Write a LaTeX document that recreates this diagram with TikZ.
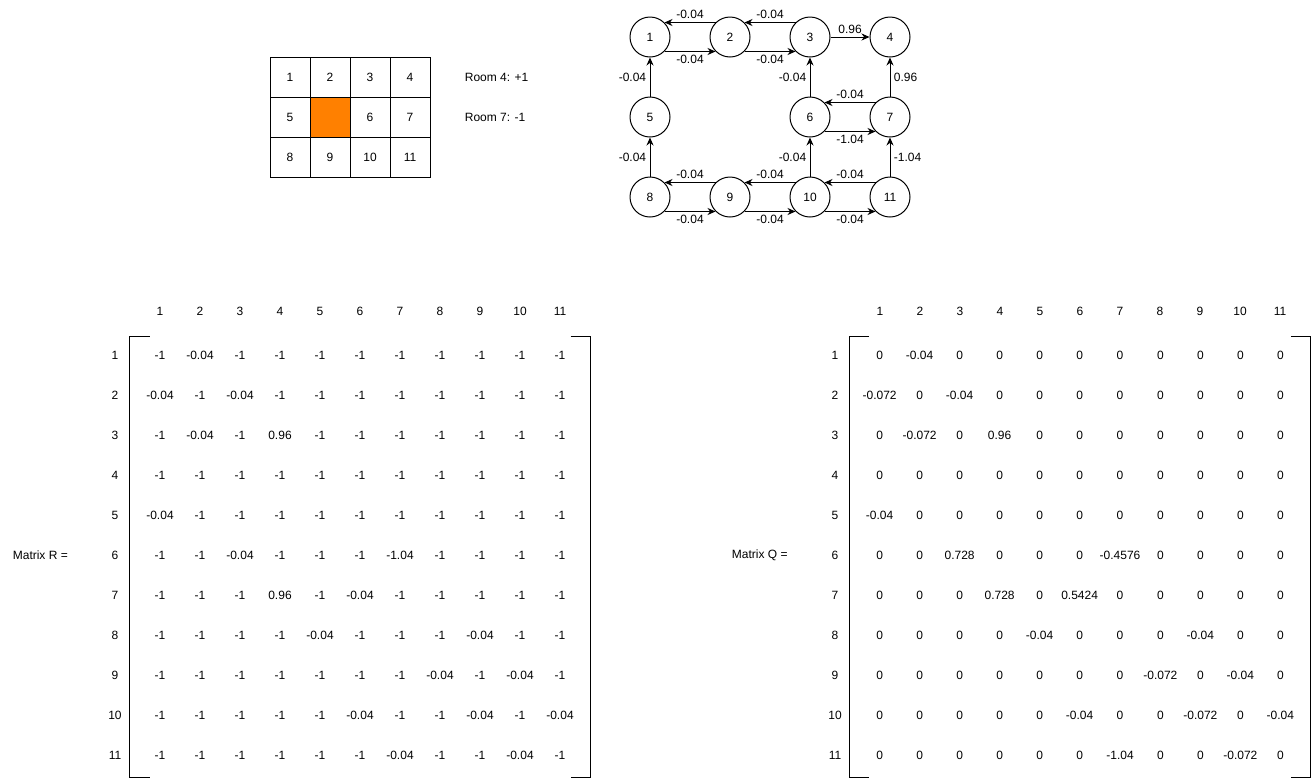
\documentclass[tikz,border=0pt]{standalone}
\usepackage{fontspec}
\setmainfont{Liberation Sans}
\usetikzlibrary{arrows.meta,matrix,calc}
\definecolor{wallorange}{HTML}{FF8000}

\begin{document}
\begin{tikzpicture}[x=1pt,y=-1pt,line width=1pt,
  font=\fontsize{12}{14}\selectfont,
  room/.style={draw,minimum size=40pt,inner sep=0pt},
  state node/.style={circle,draw,minimum size=40pt,inner sep=0pt},
  qtable/.style={matrix of nodes,inner sep=0pt,
    nodes={minimum width=40pt,minimum height=40pt,inner sep=0pt}},
  >={Stealth[length=8pt,width=7pt]}]

  \useasboundingbox (0,0) rectangle (1312,780);

  % rooms
  \node[room] (r1) at (290,77){1};
  \node[room] (r2) at (330,77){2};
  \node[room] (r3) at (370,77){3};
  \node[room] (r4) at (410,77){4};
  \node[room] (r5) at (290,117){5};
  \node[room,fill=wallorange] (wall) at (330,117){};
  \node[room] (r6) at (370,117){6};
  \node[room] (r7) at (410,117){7};
  \node[room] (r8) at (290,157){8};
  \node[room] (r9) at (330,157){9};
  \node[room] (r10) at (370,157){10};
  \node[room] (r11) at (410,157){11};

  \node[anchor=west] (goal) at (461,77){Room 4: +1};
  \node[anchor=west] (trap) at (461,117){Room 7: -1};

  % states
  \node[state node] (1) at (650,37){1};
  \node[state node] (2) at (730,37){2};
  \node[state node] (3) at (810,37){3};
  \node[state node] (4) at (890,37){4};
  \node[state node] (5) at (650,117){5};
  \node[state node] (6) at (810,117){6};
  \node[state node] (7) at (890,117){7};
  \node[state node] (8) at (650,197){8};
  \node[state node] (9) at (730,197){9};
  \node[state node] (10) at (810,197){10};
  \node[state node] (11) at (890,197){11};

  \path[->,every node/.style={font=\fontsize{12}{14}\selectfont}]
    (2.135) edge node[above]{-0.04} (1.45)
    (1.-45) edge node[below]{-0.04} (2.-135)
    (3.135) edge node[above]{-0.04} (2.45)
    (2.-45) edge node[below]{-0.04} (3.-135)
    (3) edge node[above]{0.96} (4)
    (5) edge node[left]{-0.04} (1)
    (6) edge node[left]{-0.04} (3)
    (7) edge node[right]{0.96} (4)
    (7.135) edge node[above]{-0.04} (6.45)
    (6.-45) edge node[below]{-1.04} (7.-135)
    (8) edge node[left]{-0.04} (5)
    (10) edge node[left]{-0.04} (6)
    (11) edge node[right]{-1.04} (7)
    (9.135) edge node[above]{-0.04} (8.45)
    (8.-45) edge node[below]{-0.04} (9.-135)
    (10.135) edge node[above]{-0.04} (9.45)
    (9.-45) edge node[below]{-0.04} (10.-135)
    (11.135) edge node[above]{-0.04} (10.45)
    (10.-45) edge node[below]{-0.04} (11.-135);

  % matrix R
  \node[anchor=west] (rname) at (9,555){Matrix R =};
  \foreach \c in {1,...,11}{
    \node (rh\c) at (120+40*\c,311){\c};
    \node (rl\c) at (115,315+40*\c){\c};
  }
  \matrix (R) [qtable] at (360,555) {
    -1 & -0.04 & -1 & -1 & -1 & -1 & -1 & -1 & -1 & -1 & -1 \\
    -0.04 & -1 & -0.04 & -1 & -1 & -1 & -1 & -1 & -1 & -1 & -1 \\
    -1 & -0.04 & -1 & 0.96 & -1 & -1 & -1 & -1 & -1 & -1 & -1 \\
    -1 & -1 & -1 & -1 & -1 & -1 & -1 & -1 & -1 & -1 & -1 \\
    -0.04 & -1 & -1 & -1 & -1 & -1 & -1 & -1 & -1 & -1 & -1 \\
    -1 & -1 & -0.04 & -1 & -1 & -1 & -1.04 & -1 & -1 & -1 & -1 \\
    -1 & -1 & -1 & 0.96 & -1 & -0.04 & -1 & -1 & -1 & -1 & -1 \\
    -1 & -1 & -1 & -1 & -0.04 & -1 & -1 & -1 & -0.04 & -1 & -1 \\
    -1 & -1 & -1 & -1 & -1 & -1 & -1 & -0.04 & -1 & -0.04 & -1 \\
    -1 & -1 & -1 & -1 & -1 & -0.04 & -1 & -1 & -0.04 & -1 & -0.04 \\
    -1 & -1 & -1 & -1 & -1 & -1 & -0.04 & -1 & -1 & -0.04 & -1 \\
  };
  \draw ($(R.north west)+(10,2)$) -- ++(-20,0) |- ($(R.south west)+(10,2)$);
  \draw ($(R.north east)+(-10,2)$) -- ++(20,0) |- ($(R.south east)+(-10,2)$);

  % matrix Q
  \node[anchor=west] (qname) at (728,555){Matrix Q =};
  \foreach \c in {1,...,11}{
    \node (qh\c) at (840+40*\c,311){\c};
    \node (ql\c) at (835,315+40*\c){\c};
  }
  \matrix (Q) [qtable] at (1080,555) {
    0 & -0.04 & 0 & 0 & 0 & 0 & 0 & 0 & 0 & 0 & 0 \\
    -0.072 & 0 & -0.04 & 0 & 0 & 0 & 0 & 0 & 0 & 0 & 0 \\
    0 & -0.072 & 0 & 0.96 & 0 & 0 & 0 & 0 & 0 & 0 & 0 \\
    0 & 0 & 0 & 0 & 0 & 0 & 0 & 0 & 0 & 0 & 0 \\
    -0.04 & 0 & 0 & 0 & 0 & 0 & 0 & 0 & 0 & 0 & 0 \\
    0 & 0 & 0.728 & 0 & 0 & 0 & -0.4576 & 0 & 0 & 0 & 0 \\
    0 & 0 & 0 & 0.728 & 0 & 0.5424 & 0 & 0 & 0 & 0 & 0 \\
    0 & 0 & 0 & 0 & -0.04 & 0 & 0 & 0 & -0.04 & 0 & 0 \\
    0 & 0 & 0 & 0 & 0 & 0 & 0 & -0.072 & 0 & -0.04 & 0 \\
    0 & 0 & 0 & 0 & 0 & -0.04 & 0 & 0 & -0.072 & 0 & -0.04 \\
    0 & 0 & 0 & 0 & 0 & 0 & -1.04 & 0 & 0 & -0.072 & 0 \\
  };
  \draw ($(Q.north west)+(10,2)$) -- ++(-20,0) |- ($(Q.south west)+(10,2)$);
  \draw ($(Q.north east)+(-10,2)$) -- ++(20,0) |- ($(Q.south east)+(-10,2)$);
\end{tikzpicture}
\end{document}
